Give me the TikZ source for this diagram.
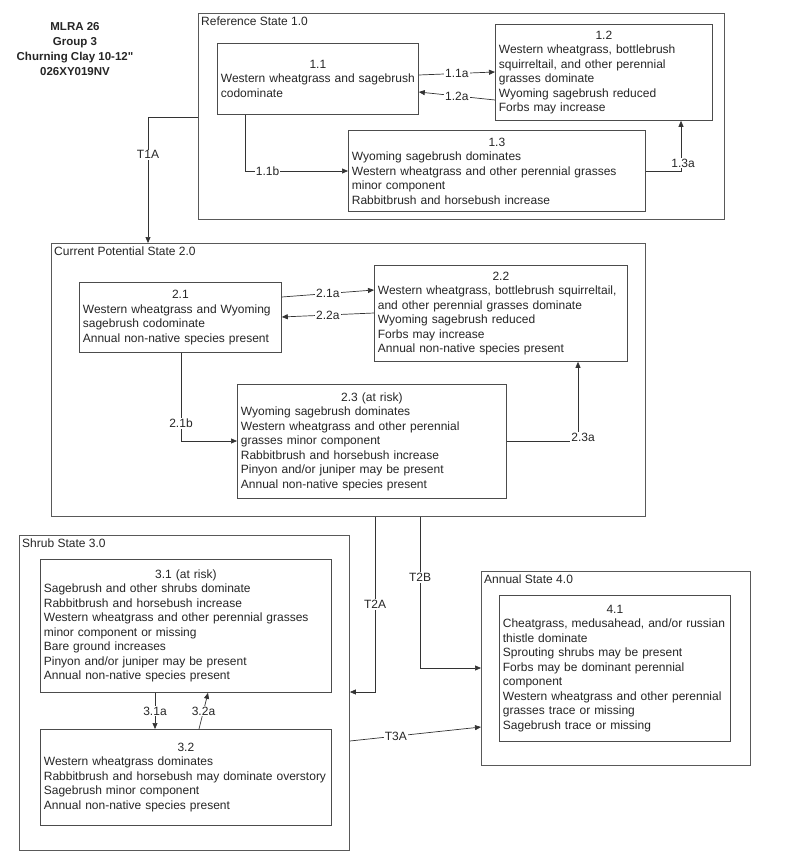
\documentclass[tikz,border=0pt]{standalone}
\usepackage{fontspec}
\setmainfont{Liberation Sans}[Ligatures=TeXOff]
\usetikzlibrary{arrows.meta}
\newcommand{\hd}[1]{\makebox[\linewidth]{#1}\\}
\tikzset{
  txt/.style={font=\fontsize{12}{14.5}\selectfont, text=black!85},
  container/.style={draw=black!65, line width=0.9pt, anchor=north west, inner sep=0pt},
  stlabel/.style={txt, anchor=north west, inner xsep=3pt, inner ysep=4pt},
  stbox/.style={txt, draw=black!70, line width=0.8pt, anchor=north west, align=left, inner xsep=3.5pt, inner ysep=0pt},
  arr/.style={draw=black!80, line width=0.7pt, -{Triangle[length=6pt,width=5pt]}},
  lab/.style={txt, fill=white, inner sep=1pt},
}
\begin{document}
\begin{tikzpicture}[x=1pt,y=-1pt]
\useasboundingbox (0,0) rectangle (800,867);
\fill[white] (0,0) rectangle (800,867);

% title
\node[font=\bfseries\fontsize{11.5}{15}\selectfont, align=center, text=black!85] (title) at (75,49) {MLRA 26\\Group 3\\Churning Clay 10-12"\\026XY019NV};

% containers
\node[container, minimum width=526pt, minimum height=206pt] (s1) at (198,13) {};
\node[stlabel] (s1l) at (s1.north west) {Reference State 1.0};
\node[container, minimum width=594pt, minimum height=273pt] (s2) at (51,243) {};
\node[stlabel] (s2l) at (s2.north west) {Current Potential State 2.0};
\node[container, minimum width=330pt, minimum height=315pt] (s3) at (19,535) {};
\node[stlabel] (s3l) at (s3.north west) {Shrub State 3.0};
\node[container, minimum width=269pt, minimum height=194pt] (s4) at (481,571) {};
\node[stlabel] (s4l) at (s4.north west) {Annual State 4.0};

% state 1 boxes
\node[stbox, text width=194pt, minimum height=71pt] (b11) at (217,43)
 {\hd{1.1}Western wheatgrass and sagebrush\\codominate};
\node[stbox, text width=210pt, minimum height=96pt] (b12) at (495,24)
 {\hd{1.2}Western wheatgrass, bottlebrush\\squirreltail, and other perennial\\grasses dominate\\Wyoming sagebrush reduced\\Forbs may increase};
\node[stbox, text width=290pt, minimum height=81pt] (b13) at (348,130)
 {\hd{1.3}Wyoming sagebrush dominates\\Western wheatgrass and other perennial grasses\\minor component\\Rabbitbrush and horsebush increase};

% state 2 boxes
\node[stbox, text width=195pt, minimum height=70pt] (b21) at (79,282)
 {\hd{2.1}Western wheatgrass and Wyoming\\sagebrush codominate\\Annual non-native species present};
\node[stbox, text width=246pt, minimum height=96pt] (b22) at (374,265)
 {\hd{2.2}Western wheatgrass, bottlebrush squirreltail,\\and other perennial grasses dominate\\Wyoming sagebrush reduced\\Forbs may increase\\Annual non-native species present};
\node[stbox, text width=262pt, minimum height=114pt] (b23) at (237,384)
 {\hd{2.3 (at risk)}Wyoming sagebrush dominates\\Western wheatgrass and other perennial\\grasses minor component\\Rabbitbrush and horsebush increase\\Pinyon and/or juniper may be present\\Annual non-native species present};

% state 3 boxes
\node[stbox, text width=284pt, minimum height=133pt] (b31) at (40,559)
 {\hd{3.1 (at risk)}Sagebrush and other shrubs dominate\\Rabbitbrush and horsebush increase\\Western wheatgrass and other perennial grasses\\minor component or missing\\Bare ground increases\\Pinyon and/or juniper may be present\\Annual non-native species present};
\node[stbox, text width=284pt, minimum height=96pt] (b32) at (40,729)
 {\hd{3.2}Western wheatgrass dominates\\Rabbitbrush and horsebush may dominate overstory\\Sagebrush minor component\\Annual non-native species present};

% state 4 box
\node[stbox, text width=224pt, minimum height=146pt] (b41) at (499,595)
 {\hd{4.1}Cheatgrass, medusahead, and/or russian\\thistle dominate\\Sprouting shrubs may be present\\Forbs may be dominant perennial\\component\\Western wheatgrass and other perennial\\grasses trace or missing\\Sagebrush trace or missing};

% community pathways
\draw[arr] (b11.east |- 0,75) -- node[lab] (l11a) {1.1a} (b12.west |- 0,72);
\draw[arr] (b12.west |- 0,100) -- node[lab] (l12a) {1.2a} (b11.east |- 0,92);
\draw[arr] (b11.south -| 245,0) |- node[lab, pos=0.61] (l11b) {1.1b} (b13.west |- 0,171);
\draw[arr] (b13.east |- 0,171) -| (b12.south -| 681,0);
\node[lab] (l13a) at (683,163) {1.3a};

\draw[arr] (b21.east |- 0,297) -- node[lab] (l21a) {2.1a} (b22.west |- 0,290);
\draw[arr] (b22.west |- 0,313) -- node[lab] (l22a) {2.2a} (b21.east |- 0,317);
\draw[arr] (b21.south -| 181,0) |- node[lab, pos=0.40] (l21b) {2.1b} (b23.west |- 0,441);
\draw[arr] (b23.east |- 0,441) -| (b22.south -| 578,0);
\node[lab] (l23a) at (583,437) {2.3a};

\draw[arr] (b31.south -| 155,0) -- node[lab] (l31a) {3.1a} (b32.north -| 155,0);
\draw[arr] (b32.north -| 199,0) -- node[lab] (l32a) {3.2a} (b31.south -| 208,0);

% transitions
\draw[arr] (s1.west |- 0,117) -| node[lab, pos=0.65] (lt1a) {T1A} (s2.north -| 148,0);
\draw[arr] (s2.south -| 375,0) |- node[lab, pos=0.25] (lt2a) {T2A} (s3.east |- 0,692);
\draw[arr] (s2.south -| 420,0) |- node[lab, pos=0.2] (lt2b) {T2B} (s4.west |- 0,668);
\draw[arr] (s3.east |- 0,741) -- node[lab, pos=0.35] (lt3a) {T3A} (s4.west |- 0,727);
\end{tikzpicture}
\end{document}
